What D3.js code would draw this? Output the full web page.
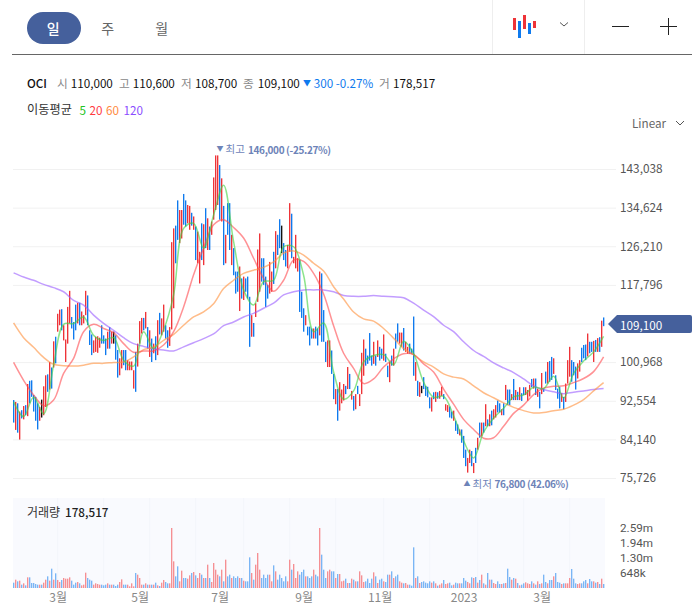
<!DOCTYPE html>
<html>
<head>
<meta charset="utf-8">
<script src="https://cdn.jsdelivr.net/npm/d3@7"></script>
<style>
html, body { margin: 0; padding: 0; background: #fff; }
svg { display: block; font-family: "Noto Sans CJK KR", "Noto Sans", sans-serif; font-size: 12px; }
</style>
</head>
<body>
<div id="chart"></div>
<script>
// daily bars, prices in thousands of won
var barHigh = [
92.7,92.3,92.0,90.2,90.5,91.4,91.6,96.2,96.9,97.0,
93.8,93.4,92.0,91.2,92.8,95.7,98.1,98.3,101.0,99.8,
105.5,106.5,111.5,112.4,112.5,109,105.9,113,116.5,110.8,
109.7,113.5,113.9,113.9,112,111.2,116.5,115.5,107.9,107,
105.7,106.5,106.6,106.3,109,106.8,106.1,107.6,108.6,107.6,
107.6,106.8,103.6,101.8,103.6,103.6,103.6,101.4,101.1,101.1,
99.2,103.2,105,109.9,110.6,110.6,111.9,108.6,107.9,106.1,
105,106.6,110.1,111.7,110.5,113.5,109,107.9,108.6,127.1,
130.1,130.7,136.2,134.1,134.1,137.6,136.2,135.2,135,133.5,
132.7,130.5,129.4,125,131.2,131,134.5,132.3,130.5,131.6,
141.2,146,146,143.9,141,135,128.7,135.6,135.6,128.7,
125.8,120.7,120.7,121.8,119.2,119.6,119.2,119.6,115.2,111.2,
109.5,113.8,125.5,129,123.6,123.6,119.6,117.8,122.8,120.7,
125,129.5,128.7,132.1,130.7,126.9,125.4,126.5,135.6,133.3,
123.9,128.7,123.6,123.2,116.3,112.7,111.2,108.7,108.7,108.3,
108.3,108.7,108.3,120.7,120.3,112.3,105.4,105.7,105.7,103.5,
98.4,95.1,95.1,96.6,95,96.2,95.8,99.9,98.4,94.7,
93.6,94,95.8,94,103,105.9,103.9,102.4,107.3,102.4,
105.4,102.4,105.7,104.3,103.9,107,102.8,100.2,101,102.4,
103.9,107.2,109.4,107.4,107.4,108.4,105.4,104.3,105,103.9,
110.9,101,96.9,96.6,95.8,97.7,95.8,95.6,93.3,93.3,
94.4,94.5,94.4,94.7,95.6,94,91.8,91.6,91.3,90.2,
90.4,88.2,87.4,86.3,86.3,84.9,81.9,80.1,81.9,81.6,
79,82.3,84.5,87.8,87.8,87.8,91.8,88.5,89.6,90.4,
90.7,91.6,92.6,92,90.7,92,96,95,95,94,
97.3,94.9,94.5,95.5,94.2,95.5,95.5,94.9,96,97.3,
97.4,97.4,95.2,94.5,98.6,95.2,98.9,101,101.2,102.1,
101.8,98.1,95.2,95.6,94.2,93.4,96.3,101.4,104.3,101.4,
101,100,100.7,101.4,104.1,104.7,104.8,107.2,105.4,105.4,
105.6,105.8,106.2,106.4,110,110.7];
var barLow = [
87.8,86.2,85.6,84.1,88.7,88.5,89.4,89.2,92.0,93.4,
90.2,88.2,86.3,88.2,88.9,89.4,91.2,94.5,95.0,95.2,
99.8,100.7,107.6,109,107.9,105.7,101,105,109.4,108.3,
105.9,107.9,109.4,109,109,109.4,111.2,109,104.7,102.5,
103,103.2,103,104.1,105,105,102.5,103.9,103.9,105,
105,101.5,97.6,98.1,99.6,100.3,99.2,99.2,99.2,99.2,
95.2,94.5,100,105,107.2,107.9,108.3,103.9,102.1,101,
102.9,101.4,102.5,107,106.8,107.6,106.1,104.1,104.5,108.1,
112.7,122.5,127.6,126.9,127.9,130.9,130.5,131.2,129.8,130.7,
129.8,123.2,122.5,118.1,123.2,122.1,125.8,125.4,125.4,128.7,
132,134.1,135.2,132,131.6,122.1,122.5,128.7,125.4,122.1,
119.9,115.9,116.3,112.1,114.8,114.5,116.3,114.8,104.3,106.5,
106.5,110.8,114.1,116.3,118.5,117.8,113,114.8,115.9,116.3,
118,121.4,124.3,125.8,124.7,123.2,121.8,121.4,125,123.6,
122.5,121.4,120.7,111.9,110.6,107.6,109,106.8,104.6,106.1,
106.1,106.1,104.6,106.8,105.4,105.4,101,99.9,99.9,98.4,
92.9,91.8,88.2,90.4,92,92.6,94,95.1,95.1,92.8,
90.4,90.7,94,91.4,94,98,100.2,100.6,101.3,100.2,
100.6,100.2,102.1,101.3,101.7,101.3,101,97.7,96.6,100.2,
100.2,103.9,105.4,105,104.3,103.5,103.2,102.8,102.8,102.8,
98,96.9,93.6,93.4,94.2,95.1,93.6,93.3,90.9,90.2,
92.9,92.3,93,93,93.6,92.9,90.4,90.1,88.9,88.7,
88.2,86,85.3,85,83.4,80.1,78.3,76.9,79,78.3,
76.8,79,81.9,84.5,84.9,85.6,87,87,87,87.2,
88.5,88.9,90,90,89.4,89.4,92.7,91.6,91.6,92.7,
92.7,92.7,92.7,92.7,92.5,93.8,93.8,92.55,93.5,95.5,
95.2,93.8,93.4,90.9,94,94.5,96.3,96.3,96.7,97.1,
98.4,94.9,93,90.9,92.3,90.7,92.3,96.3,97.8,96.7,
98.1,95,97.4,98.9,101,101.8,101.4,102.2,102.9,103.2,
101,103.2,103.2,103.2,104.3,108.8];
// 1 up, -1 down, 0 unchanged
var barDir = [
-1,1,-1,1,-1,1,-1,1,-1,-1,
-1,-1,-1,1,0,1,1,-1,1,-1,
1,-1,1,1,-1,1,1,1,1,-1,
-1,-1,1,-1,1,1,1,-1,-1,-1,
1,1,1,1,-1,-1,-1,1,-1,1,
0,-1,-1,1,1,-1,-1,1,1,1,
1,-1,1,1,1,-1,1,-1,1,-1,
1,-1,1,-1,1,1,-1,-1,1,1,
1,-1,-1,1,1,-1,-1,1,1,-1,
1,-1,1,1,-1,1,-1,1,-1,1,
1,1,1,-1,1,-1,1,-1,-1,1,
-1,-1,-1,1,-1,1,-1,-1,-1,1,
-1,1,1,1,-1,-1,-1,-1,1,1,
-1,1,-1,-1,0,-1,-1,1,1,-1,
1,1,1,-1,-1,-1,1,-1,-1,-1,
1,-1,-1,1,-1,-1,-1,1,1,-1,
-1,1,-1,1,1,1,-1,1,-1,1,
-1,1,-1,1,1,1,-1,-1,-1,-1,
1,-1,1,-1,-1,1,-1,-1,1,-1,
1,-1,-1,1,1,-1,1,1,-1,-1,
-1,1,-1,1,0,-1,-1,-1,-1,1,
-1,1,-1,1,1,-1,1,1,-1,-1,
1,-1,-1,1,-1,-1,-1,1,1,-1,
1,-1,1,-1,1,-1,1,-1,1,-1,
1,1,-1,-1,1,-1,1,-1,-1,1,
-1,1,-1,1,-1,-1,1,1,1,-1,
1,-1,1,-1,1,-1,-1,1,-1,-1,
1,-1,-1,-1,1,-1,1,1,1,-1,
-1,-1,1,1,-1,-1,-1,1,-1,-1,
1,-1,1,-1,1,-1];
// volume in thousands of shares
var barVolume = [
230,360,288,317,144,202,115,461,461,216,
216,173,144,144,144,230,360,504,317,835,
360,634,346,259,346,432,403,403,461,317,
144,230,259,202,115,144,662,432,360,317,
144,202,173,144,144,115,144,202,144,144,
144,86,144,259,374,144,144,144,72,202,
72,648,576,432,144,144,202,144,144,144,
144,230,115,86,230,346,259,202,202,2592,
1152,504,936,288,749,432,432,403,547,648,
691,547,432,648,576,432,432,1008,432,259,
1080,792,576,504,792,288,1224,504,576,432,
504,432,504,432,432,317,288,288,1325,648,
360,1008,1512,792,432,576,432,576,576,288,
979,720,360,576,432,288,504,288,1224,792,
1037,432,720,576,691,792,504,504,432,504,
792,576,504,2592,1440,792,432,720,792,720,
720,432,605,605,288,317,403,216,216,403,
360,288,288,720,547,259,288,403,216,403,
677,504,216,360,403,288,259,576,576,720,
432,504,576,288,230,202,216,144,144,101,
1757,432,504,216,259,288,230,202,288,230,
288,202,101,144,202,346,173,202,230,115,
144,230,202,202,202,432,317,259,202,461,
432,475,230,346,576,202,144,648,360,360,
216,173,288,173,173,202,216,835,475,360,
432,403,216,115,144,202,245,202,173,288,
202,144,288,173,202,576,259,202,346,346,
504,648,259,230,173,202,202,202,432,821,
403,202,173,202,202,288,346,202,389,288,
288,230,259,173,403,173];

// moving averages, read every 5th bar
var maStep = 5;
var ma5 = [
92.3,89.1,93.3,89.7,100.3,109.2,109.4,110.8,106.8,105.7,
106.3,101.4,100.1,107.6,103.9,108,115.6,130.1,131.2,125.8,
133,139.5,127.2,116.7,113.4,118.5,118.8,126.1,126.1,119.9,
107.6,109.5,98.8,92.9,94.7,101,102.4,102.6,100.4,105.5,
102.8,96.6,93.3,93.5,89.3,83.8,80.1,85.7,88.8,90.9,
93.4,93.8,95.5,95.2,97.9,93.1,98.5,101.2,103.2,106.6];
var ma20 = [
100.9,97,93.8,91.5,92.7,98.5,101.8,107.6,109.2,108.3,
107.4,105,103.1,103.4,103.4,104.7,107.6,113,120,125.8,
130.9,132,130.3,128,123.6,119.2,116.4,118.8,123.2,122.9,
120.3,115.8,108.9,102.9,99.6,96.3,97.3,99.9,101.7,102.8,
102.6,100.6,98.8,95.1,91.8,88.5,86.3,84.4,84.5,87,
89.8,91.6,93.9,95.3,95.7,95.8,96.5,97.4,98.9,102.1];
var ma60 = [
109.5,106.3,104.2,102,100.5,100.2,100.1,100.3,100.7,100.7,
100.9,101,102.1,103.7,104.2,105.7,107,109,110.8,111.9,
113.7,117,118.8,120.3,121,121.6,122.8,124.7,125.2,124.3,
122.5,120.8,117.4,114.7,111.9,110.4,109.9,108.3,106.2,103.9,
102.6,101,99.9,98.4,97.7,97.3,95.8,94.3,93.2,92.1,
91.1,90.4,89.9,90,90.4,90.7,91.6,92.8,94.7,96.5];
var ma120 = [
120.4,119.5,118.8,117.9,117.2,116.3,114.4,113.4,111.2,109.4,
107.9,106.3,105,104.4,103.9,103.6,103.4,104.3,105.2,106.1,
107.1,108.9,109.7,110.8,111.6,112.7,113.8,115.6,116.3,116.7,
116.7,116.7,116.3,115.5,115.3,115.3,115.5,115.3,115.2,115,
113.8,112.3,110.9,109,107.6,105.4,103.5,102.2,100.8,99.7,
98.7,97.3,95.8,95,94.5,94.1,94.4,94.7,95,95.2];

var priceTicks = [75726, 84140, 92554, 100968, 109382, 117796, 126210, 134624, 143038];
var hiddenTick = 109382; // label sits under the last price tag
var volumeTicks = [648, 1296, 1944, 2592];
var volumeTickLabels = ['648k', '1.30m', '1.94m', '2.59m'];
var monthBars = [22, 63, 103, 145, 183, 225, 264];
var monthLabels = ['3월', '5월', '7월', '9월', '11월', '2023', '3월'];
var volumeGridBars = [22, 45, 68, 91, 115, 138, 161, 185, 208, 232, 255, 278];

var infoItems = [
  ['시', '110,000', 57, 70.7], ['고', '110,600', 119, 132.7],
  ['저', '108,700', 181, 195], ['종', '109,100', 243, 257.7]
];
var maLegend = [['5', '#22c322', 79.5], ['20', '#ff3a3f', 89.5], ['60', '#ff8a3d', 106], ['120', '#8a4dff', 123.5]];
var iconBars = [[514.5, 18, 30, 1], [519.5, 21, 38, 0], [524.5, 15, 29, 1], [529.5, 23, 34, 0], [534.5, 21, 28, 1]];

var RED = '#ee3338', BLUE = '#0f7aee', NAVY = '#45609c';
var BAR_W = 1.35;

var svg = d3.select('#chart').append('svg').attr('width', 697).attr('height', 616);

var x = d3.scaleLinear().domain([0, barHigh.length - 1]).range([13.6, 603.6]);
var y = d3.scaleLinear().domain([75726, 143038]).range([478, 169]);
var yVol = d3.scaleLinear().domain([0, 2592]).range([588, 528]);

function label(txt, px, py, color, weight, size, anchor) {
  return svg.append('text').text(txt).attr('x', px).attr('y', py)
    .attr('dominant-baseline', 'central')
    .attr('fill', color).attr('font-weight', weight || 400)
    .attr('font-size', size || 11.7).attr('text-anchor', anchor || 'start');
}

function seg(x1, y1, x2, y2, color, w) {
  svg.append('line').attr('x1', x1).attr('y1', y1).attr('x2', x2).attr('y2', y2)
    .attr('stroke', color).attr('stroke-width', w || 1);
}

// toolbar
svg.append('rect').attr('x', 27).attr('y', 12).attr('width', 54).attr('height', 32).attr('rx', 16).attr('fill', NAVY);
label('일', 53.3, 28, '#fff', 500, 14, 'middle');
label('주', 107.7, 28, '#666', 400, 14, 'middle');
label('월', 161.7, 28, '#666', 400, 14, 'middle');
seg(12, 54.5, 692, 54.5, '#666');
seg(492.5, 0, 492.5, 54, '#eee');
seg(584.5, 0, 584.5, 54, '#eee');

iconBars.forEach(function (b) { seg(b[0], b[1], b[0], b[2], b[3] ? RED : BLUE, 3); });
svg.append('path').attr('d', 'M560 22.5l4 3.5 4-3.5').attr('fill', 'none').attr('stroke', '#555');
seg(612, 26.5, 629, 26.5, '#222', 1);
seg(660, 26.5, 677, 26.5, '#222', 1);
seg(668.5, 18, 668.5, 35, '#222', 1);

// info rows
label('OCI', 27, 82, '#111', 500);
infoItems.forEach(function (it) {
  label(it[0], it[2], 82, '#888');
  label(it[1], it[3], 82, '#111', 400);
});
label('▼', 303, 82, BLUE, 400, 8);
label('300 -0.27%', 313.7, 82, BLUE, 400);
label('거', 379, 82, '#888');
label('178,517', 393, 82, '#111', 400);

label('이동평균', 27, 109, '#333', 400, 12.2);
maLegend.forEach(function (m) { label(m[0], m[2], 109, m[1]); });

label('Linear', 632, 122, '#666');
svg.append('path').attr('d', 'M676 121l4 4 4-4').attr('fill', 'none').attr('stroke', '#555');

// price axis with gridlines
svg.append('g').attr('transform', 'translate(616,0)')
  .call(d3.axisRight(y).tickValues(priceTicks).tickSize(-603).tickPadding(4)
    .tickFormat(function (d) { return d === hiddenTick ? '' : d3.format(',')(d); }))
  .call(function (g) {
    g.select('.domain').remove();
    g.selectAll('line').attr('stroke', '#f1f1f1');
    g.selectAll('text').attr('fill', '#555').attr('font-size', 11.8)
      .attr('font-family', '"Noto Sans CJK KR", sans-serif');
  });

// candles
svg.append('g').selectAll('rect').data(barHigh).join('rect')
  .attr('x', function (d, i) { return x(i) - 0.6; })
  .attr('y', function (d) { return y(d * 1000); })
  .attr('width', BAR_W)
  .attr('height', function (d, i) { return y(barLow[i] * 1000) - y(d * 1000); })
  .attr('fill', function (d, i) { return barDir[i] > 0 ? RED : barDir[i] < 0 ? BLUE : '#111'; });

// moving averages
var maLine = d3.line()
  .x(function (d, i) { return x(i * maStep); })
  .y(function (d) { return y(d * 1000); })
  .curve(d3.curveCatmullRom);
[[ma120, '#9a5cff'], [ma60, '#ff8f3a'], [ma20, '#ff4a4f'], [ma5, '#3fd23f']].forEach(function (m) {
  svg.append('path').attr('d', maLine(m[0])).attr('fill', 'none')
    .attr('stroke', m[1]).attr('stroke-opacity', 0.6).attr('stroke-width', 1.5);
});

// high / low notes
var NOTE = '#6d83b8';
label('▼', 216.5, 147.5, NOTE, 400, 7);
label('최고', 225.5, 148, NOTE, 400, 10.5);
label('146,000 (-25.27%)', 248, 149, NOTE, 700, 10).attr('letter-spacing', -0.35);
label('▲', 463.5, 482.5, NOTE, 400, 7);
label('최저', 472.5, 483, NOTE, 400, 10.5);
label('76,800 (42.06%)', 494.5, 483.5, NOTE, 700, 10).attr('letter-spacing', -0.35);

// last price tag
svg.append('path').attr('d', 'M608 324l9-9h73a2 2 0 0 1 2 2v14a2 2 0 0 1-2 2h-73z').attr('fill', NAVY);
label('109,100', 620, 324, '#fff', 400);

// volume panel
svg.append('rect').attr('x', 13).attr('y', 498).attr('width', 592).attr('height', 90).attr('fill', '#f9fafe');
svg.append('g').selectAll('line').data(volumeGridBars).join('line')
  .attr('x1', function (d) { return x(d); }).attr('x2', function (d) { return x(d); })
  .attr('y1', 498).attr('y2', 588).attr('stroke', '#f3f5fb');
svg.append('g').selectAll('rect').data(barVolume).join('rect')
  .attr('x', function (d, i) { return x(i) - 0.6; })
  .attr('y', function (d) { return yVol(d); })
  .attr('width', BAR_W)
  .attr('height', function (d) { return yVol(0) - yVol(d); })
  .attr('fill', function (d, i) { return barDir[i] > 0 ? '#f58f93' : '#7ab5f5'; });
label('거래량', 27, 511, '#333', 400, 12);
label('178,517', 65, 511, '#222', 500);

svg.append('g').attr('transform', 'translate(616,0)')
  .call(d3.axisRight(yVol).tickValues(volumeTicks).tickSize(0).tickPadding(4)
    .tickFormat(function (d, i) { return volumeTickLabels[i]; }))
  .call(function (g) {
    g.select('.domain').remove();
    g.selectAll('text').attr('fill', '#555').attr('font-size', 11.7)
      .attr('font-family', 'Roboto, sans-serif');
  });

// time axis
svg.append('g').attr('transform', 'translate(0,588)')
  .call(d3.axisBottom(x).tickValues(monthBars).tickSize(0).tickPadding(5)
    .tickFormat(function (d, i) { return monthLabels[i]; }))
  .call(function (g) {
    g.select('.domain').remove();
    g.selectAll('text').attr('fill', '#888').attr('font-size', 12)
      .attr('font-family', '"Noto Sans CJK KR", sans-serif');
  });
</script>
</body>
</html>
